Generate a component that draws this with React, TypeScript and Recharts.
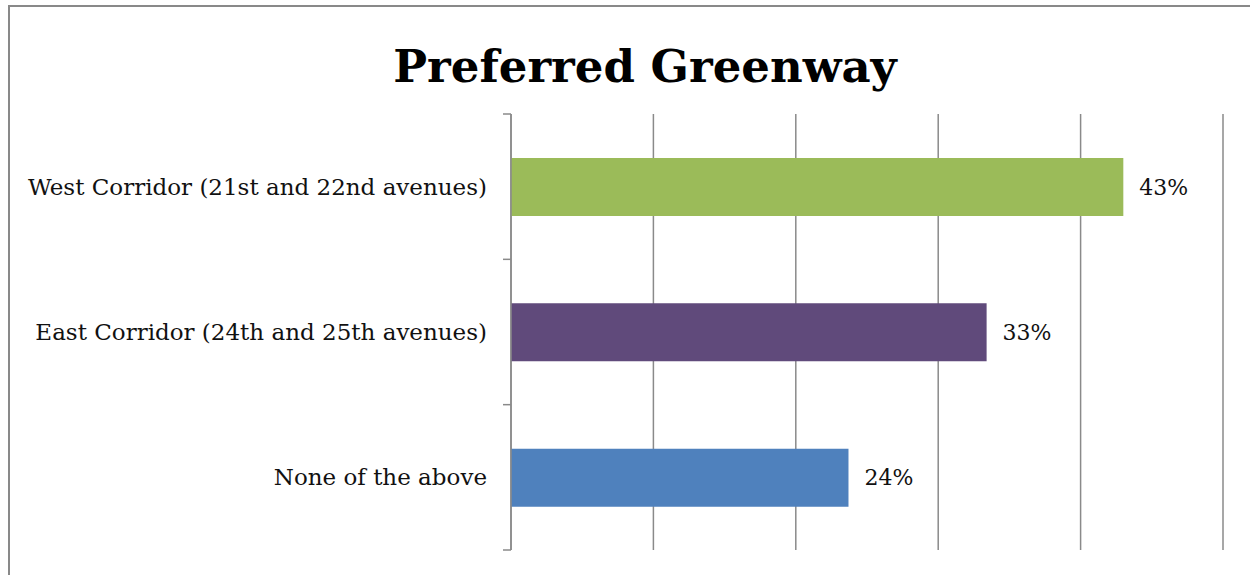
import { BarChart, Bar, XAxis, YAxis, CartesianGrid, LabelList } from "recharts";

const categories = [
  "West Corridor (21st and 22nd avenues)",
  "East Corridor (24th and 25th avenues)",
  "None of the above",
];
const shares = [43.0, 33.4, 23.7];
const barColors = ["#9BBB59", "#604A7B", "#4F81BD"];
const xTicks = [0, 10, 20, 30, 40, 50];

const data = categories.map((name, i) => ({ name, value: shares[i], fill: barColors[i] }));

const FONT = "'DejaVu Serif', serif";
const GRID = "#8a8a8a";

const CHART_W = 1250;
const CHART_H = 575;
const MARGIN = { top: 114, right: 27, bottom: 25, left: 0 };
const BAND = (CHART_H - MARGIN.top - MARGIN.bottom) / categories.length;

function CategoryTick(props: any) {
  const { x, y, payload, index } = props;
  // x arrives as axis x minus tickSize + tickMargin (8)
  const ax = x + 8;
  const top = y - BAND / 2;
  return (
    <g>
      <line x1={ax - 8} x2={ax} y1={top} y2={top} stroke={GRID} strokeWidth={1.5} />
      {index === categories.length - 1 && (
        <line x1={ax - 8} x2={ax} y1={top + BAND} y2={top + BAND} stroke={GRID} strokeWidth={1.5} />
      )}
      <text x={ax - 24} y={y} dy={8} textAnchor="end" fontFamily={FONT} fontSize={23} fill="#111">
        {payload.value}
      </text>
    </g>
  );
}

export default function App() {
  return (
    <div style={{ position: "absolute", left: 0, top: 0, width: CHART_W, height: CHART_H, overflow: "hidden", background: "#fff" }}>
      <div
        style={{
          position: "absolute",
          left: 8,
          top: 5,
          width: 1260,
          height: 600,
          border: "2px solid #898989",
          boxSizing: "border-box",
        }}
      />
      <div
        style={{
          position: "absolute",
          left: 0,
          width: 1290,
          top: 39,
          lineHeight: "56px",
          textAlign: "center",
          fontFamily: FONT,
          fontWeight: "bold",
          fontSize: 45,
          color: "#000",
        }}
      >
        Preferred Greenway
      </div>
      <div style={{ position: "absolute", left: 0, top: 0 }}>
        <BarChart width={CHART_W} height={CHART_H} data={data} layout="vertical" margin={MARGIN} barCategoryGap="30%">
          <CartesianGrid horizontal={false} vertical stroke={GRID} strokeWidth={1.5} />
          <XAxis type="number" domain={[0, 50]} ticks={xTicks} hide />
          <YAxis
            type="category"
            dataKey="name"
            width={511}
            axisLine={{ stroke: GRID, strokeWidth: 1.5 }}
            tickLine={false}
            tick={<CategoryTick />}
            interval={0}
          />
          <Bar dataKey="value" isAnimationActive={false} barSize={58}>
            <LabelList
              dataKey="value"
              position="right"
              offset={16}
              formatter={(v: any) => `${Math.round(Number(v))}%`}
              style={{ fontFamily: FONT, fontSize: 22, fill: "#111" }}
            />
          </Bar>
        </BarChart>
      </div>
    </div>
  );
}
